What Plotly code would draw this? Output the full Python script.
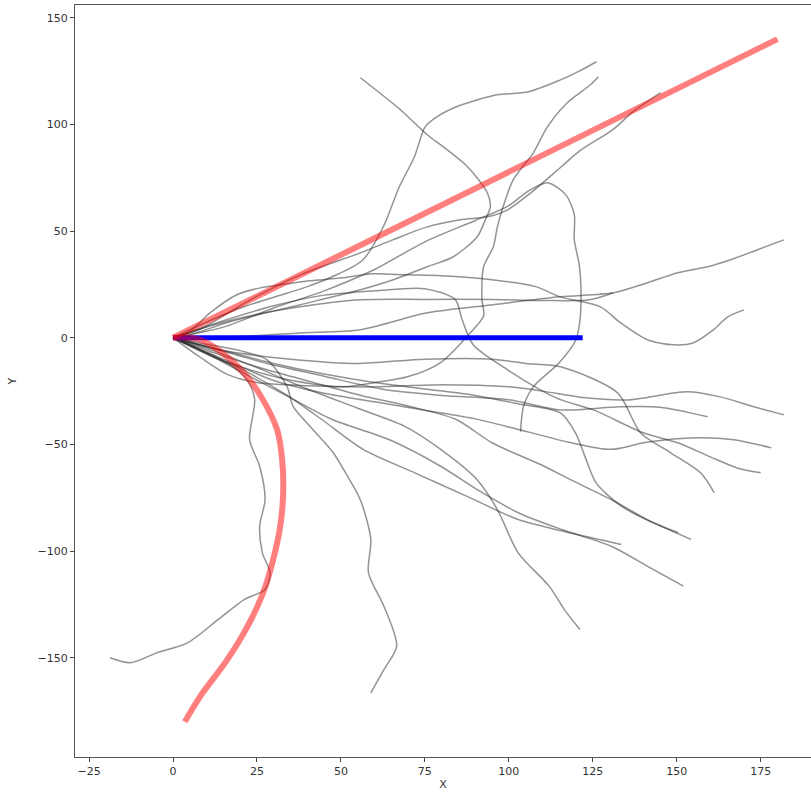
import plotly.graph_objects as go

# ---- reference lines ----
red_line_x = [0, 180]
red_line_y = [0, 140]
blue_line_x = [0, 122]
blue_line_y = [0, 0]
red_curve_x = [0, 8, 16.1, 22.1, 26.8, 31, 32.5, 32.8, 31.9, 29.8, 26.8, 22.1, 16.1, 8, 3.5]
red_curve_y = [0, -0.9, -8.9, -18.3, -29.1, -43.1, -57.2, -72.7, -88.6, -104.1, -119.6, -135.5, -151, -168.3, -180]

# ---- gray trajectories ----
walk_a_x = [0, 5, 17, 37.9, 55.8, 65.6, 75.7, 83.5, 90.6, 93, 94.5, 93.6, 87.7, 80.5, 75.7, 67.7, 55.8]
walk_a_y = [0, 1.4, 7.5, 15.5, 22.5, 27.2, 33.3, 38, 47.4, 55.3, 61.4, 68, 80.2, 89.5, 95.2, 106.9, 121.9]
walk_b_x = [0, 8, 20, 30, 40, 47.4, 56.6, 62.6, 67.4, 71.9, 75.1, 79, 84.4, 90.5, 96.6, 105.8, 115.4, 121, 126.1]
walk_b_y = [0, 6, 14, 19, 24, 28.6, 36.6, 52, 70.8, 84.9, 98.9, 104, 108.3, 111.5, 113.9, 115.3, 120.9, 125, 129.4]
walk_c_x = [0, 14, 31.9, 49.8, 59.6, 69.8, 79.6, 87.7, 92.5, 92, 92.5, 95.4, 96.6, 98.3, 101.3, 107.3, 111.5, 117.4, 124.3, 126.7]
walk_c_y = [0, -10.3, -18.8, -23, -21.1, -18.3, -11.7, 0.9, 10.3, 17.8, 33.3, 42.7, 52, 61.4, 74, 86.7, 98.9, 110.2, 118.6, 122.4]
walk_d_x = [0, 8, 23, 37.9, 55.8, 65.6, 75.7, 85.6, 93.6, 99.6, 107.3, 115.3, 121.2, 131, 137, 145.2]
walk_d_y = [0, 4, 17.8, 29.5, 39.8, 46, 52, 55.3, 56.7, 60, 68.9, 79.7, 87.7, 97.6, 106, 114.9]
walk_e_x = [0, 23, 37.9, 55.8, 75.7, 95.4, 115.3, 131.2, 141.3, 150.3, 159.2, 166.1, 174.1, 181.9]
walk_e_y = [0, 0.9, 2.3, 3.8, 11.7, 15.5, 19.2, 21.1, 25.8, 30.5, 33.3, 36.6, 41.3, 45.9]
walk_f_x = [0, 5, 11, 19, 26, 34, 40.5, 50.4, 59.3, 70, 80, 95, 108, 115.3, 127.3, 133.3, 141.3, 149.1, 155, 161, 165.2, 170]
walk_f_y = [0, 3, 11.7, 20.2, 23.4, 25.3, 26.7, 28.1, 30, 29.5, 29.1, 27.2, 24, 19.2, 14.5, 7, -0.9, -3.3, -2.3, 3.8, 9.8, 13.1]
walk_g_x = [0, 15, 30, 45, 60, 75, 90, 100, 106, 111.5, 117, 119.5, 119.5, 121, 121.5, 121.2, 120, 115, 107.3, 104.4, 103.5]
walk_g_y = [0, 5, 14, 22, 32, 45, 55, 62, 69, 72.7, 67, 57.7, 46, 34, 21, 8.4, -0.9, -11.7, -23, -32, -44]
walk_h_x = [0, 12, 25, 40, 55.8, 75, 95, 110, 124, 131]
walk_h_y = [0, 6, 11, 15, 17.8, 18, 18, 17.5, 17.8, 21]
walk_i_x = [0, 8, 17, 22, 24.3, 22.8, 25.8, 27.4, 25.8, 26.6, 28.9, 27.4, 21.2, 13.5, 4.3, -4.9, -12.6, -18.8]
walk_i_y = [0, -5.6, -12.7, -19.7, -28.9, -47.7, -60.2, -75.8, -88.3, -100.8, -110.2, -118, -122.7, -132, -143, -147.7, -152.3, -150]
walk_j_x = [0, 10, 20, 28, 34, 35.8, 41.7, 47.7, 52, 55.8, 58.9, 58.2, 62.8, 66.6, 62.8, 58.9]
walk_j_y = [0, -3, -6, -10.3, -23, -32.3, -43.1, -53.9, -65, -76, -94.5, -110.2, -125.8, -144.5, -155.5, -166.4]
walk_k_x = [0, 12, 25, 40, 55, 68.9, 79.7, 90.5, 96.6, 102.8, 112, 116.8, 121.2]
walk_k_y = [0, -6, -14, -24, -33, -41.4, -52.3, -66.4, -80.5, -100.8, -116.4, -128, -136.7]
walk_l_x = [0, 10, 22, 34, 44.3, 56.6, 72, 87.4, 102.8, 118.2, 133.5]
walk_l_y = [0, -7, -16, -27, -38.3, -52.3, -63.3, -74.2, -85.2, -91.4, -96.9]
walk_m_x = [0, 12, 24, 36, 47.4, 64.3, 79.7, 90.5, 102.8, 116, 130.5, 141.2, 152]
walk_m_y = [0, -9, -19, -29, -38.3, -47.7, -60.2, -71.1, -82, -90, -97.7, -107, -116.4]
walk_n_x = [0, 14, 28, 42, 56, 70, 84.3, 95, 110.5, 118.2, 130.5, 141.2, 154.3]
walk_n_y = [0, -8, -15, -21, -27, -32, -38.3, -49.2, -60.2, -66.4, -75.8, -85.2, -94.5]
walk_o_x = [0, 15, 30, 45, 60, 75, 90, 103, 115.4, 120, 123, 126, 133.5, 142, 150.5]
walk_o_y = [0, -6, -12, -17, -21, -24, -27, -31, -35.2, -45, -57, -68, -78.9, -86, -91.4]
walk_p_x = [0, 8, 16, 25, 40, 60, 80, 100, 110, 122, 135.4, 153.2, 163, 173, 181.9]
walk_p_y = [0, -9, -17, -21, -22.5, -23, -22, -23, -25, -28, -29.1, -25.3, -27.7, -32.3, -36.1]
walk_q_x = [0, 12, 28, 45, 62, 80, 100, 115.4, 133, 145, 159.2]
walk_q_y = [0, -5, -12, -18, -24, -27, -29, -33.8, -32.3, -32.5, -37]
walk_r_x = [0, 15, 30, 45, 60, 75, 90, 103, 118, 130.5, 141, 156, 167, 178.2]
walk_r_y = [0, -10, -20, -26, -30, -34, -38, -43, -49, -52.3, -49, -46.9, -47.8, -51.6]
walk_s_x = [0, 15, 30, 45, 60, 75, 84, 86, 89.4, 99.6, 109.4, 115.4, 125.2, 140, 150.3, 160, 168, 175]
walk_s_y = [0, 8, 15, 20, 22, 23, 18, 9, -3.3, -15, -24.4, -29, -33.8, -44.5, -49.2, -55.8, -61, -63.3]
walk_t_x = [0, 15, 35, 55, 75, 95, 105, 115.4, 132.4, 139.2, 148.2, 157.1, 161.2]
walk_t_y = [0, -6, -10, -12, -10, -10, -12, -13.6, -25.8, -44.5, -53.9, -63.3, -72.7]

walks = [
    (walk_a_x, walk_a_y), (walk_b_x, walk_b_y), (walk_c_x, walk_c_y), (walk_d_x, walk_d_y),
    (walk_e_x, walk_e_y), (walk_f_x, walk_f_y), (walk_g_x, walk_g_y), (walk_h_x, walk_h_y),
    (walk_i_x, walk_i_y), (walk_j_x, walk_j_y), (walk_k_x, walk_k_y), (walk_l_x, walk_l_y),
    (walk_m_x, walk_m_y), (walk_n_x, walk_n_y), (walk_o_x, walk_o_y), (walk_p_x, walk_p_y),
    (walk_q_x, walk_q_y), (walk_r_x, walk_r_y), (walk_s_x, walk_s_y), (walk_t_x, walk_t_y),
]

x_ticks = [-25, 0, 25, 50, 75, 100, 125, 150, 175]
y_ticks = [-150, -100, -50, 0, 50, 100, 150]

fig = go.Figure()
for wx, wy in walks:
    fig.add_trace(go.Scatter(x=wx, y=wy, mode="lines",
                             line=dict(color="rgba(40,40,40,0.5)", width=1.5, shape="spline", smoothing=0.8),
                             hoverinfo="skip"))

fig.add_trace(go.Scatter(x=blue_line_x, y=blue_line_y, mode="lines", line=dict(color="rgb(0,0,255)", width=5)))
fig.add_trace(go.Scatter(x=red_line_x, y=red_line_y, mode="lines", line=dict(color="rgba(255,0,0,0.5)", width=6)))
fig.add_trace(go.Scatter(x=red_curve_x, y=red_curve_y, mode="lines",
                         line=dict(color="rgba(255,0,0,0.5)", width=6, shape="spline", smoothing=1)))

axis_font = dict(family="DejaVu Sans", size=11, color="#333")
fig.update_layout(
    width=811, height=796,
    margin=dict(l=75, r=0, t=5, b=39, autoexpand=False),
    paper_bgcolor="white", plot_bgcolor="white",
    showlegend=False,
    font=axis_font,
    xaxis=dict(range=[-29.2, 190], tickvals=x_ticks, ticks="outside", ticklen=4, tickcolor="#444",
               showline=True, linecolor="#555", linewidth=1.3, mirror=True, showgrid=False, zeroline=False,
               automargin=False,
               title=dict(text="X", font=axis_font, standoff=2), tickfont=axis_font),
    yaxis=dict(range=[-196.5, 156], tickvals=y_ticks, ticks="outside", ticklen=4, tickcolor="#444",
               showline=True, linecolor="#555", linewidth=1.3, mirror=False, showgrid=False, zeroline=False,
               automargin=False,
               title=dict(text="Y", font=axis_font, standoff=18), tickfont=axis_font),
)

fig.write_html("out.html", config={"displayModeBar": False},
               post_script="document.body.style.margin='0';document.body.style.overflow='hidden';")
